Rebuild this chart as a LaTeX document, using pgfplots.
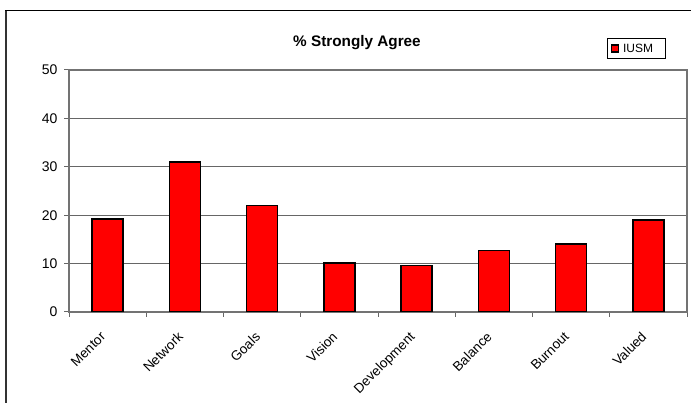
\documentclass[border=0pt]{standalone}
\usepackage{pgfplots}
\pgfplotsset{compat=1.18}
\usepackage{fontspec}
\setmainfont{Liberation Sans}
\begin{document}
\begin{tikzpicture}[x=1pt,y=1pt]
\useasboundingbox (0,0) rectangle (691,403);
% outer chart frame, running off the right and bottom edges
\begin{scope}
  \clip (0,0) rectangle (691,403);
  \draw[black!80, line width=2pt] (6,-20) -- (6,392.3);
  \draw[black, line width=1.1pt] (5,392.3) -- (720,392.3);
\end{scope}
\node[font=\bfseries\fontsize{15.3}{18}\selectfont, anchor=base] at (357,356.5) {\% Strongly Agree};
\begin{axis}[
  at={(69pt,91pt)}, anchor=south west,
  width=618pt, height=242pt, scale only axis,
  xmin=-0.5, xmax=7.5, ymin=0, ymax=50,
  ytick={0,10,...,50},
  xtick={0,...,7},
  xticklabels={Mentor,Network,Goals,Vision,Development,Balance,Burnout,Valued},
  minor xtick={-0.5,0.5,...,7.5},
  major x tick style={draw=none},
  minor x tick style={draw=black!60, line width=1pt},
  major tick length=5pt, minor tick length=5pt,
  tick align=outside,
  xtick pos=bottom, ytick pos=left,
  ymajorgrids,
  major grid style={draw=black!60, line width=1pt},
  axis line style={draw=black!55, line width=1.6pt},
  y tick style={draw=black!60, line width=1pt},
  /pgf/number format/assume math mode=true,
  yticklabel style={font=\fontsize{14}{16}\selectfont, xshift=-3pt},
  xticklabel style={font=\fontsize{13.5}{16}\selectfont, xshift=-8pt, yshift=-9pt, rotate=45, anchor=north east},
  legend style={at={(0.8706,1.0455)}, anchor=south west, draw=black, line width=0.8pt,
    font=\fontsize{12}{14}\selectfont, inner xsep=2pt, inner ysep=3pt,
    /tikz/every even column/.append style={column sep=0pt}},
  legend image code/.code={
    \path (0pt,0pt) (10pt,0pt);
    \draw[fill=red, draw=black, line width=1.5pt] (1.5pt,-3.6pt) rectangle (8.5pt,3.6pt);},
  legend cell align=left,
]
\addplot[ybar, bar width=31pt, fill=red, draw=black, line width=1.6pt]
  coordinates {(0,19.2) (1,31.0) (2,22.0) (3,10.1) (4,9.6) (5,12.7) (6,14.1) (7,19.0)};
\addlegendentry{IUSM\rule{8pt}{0pt}}
\end{axis}
\end{tikzpicture}
\end{document}
